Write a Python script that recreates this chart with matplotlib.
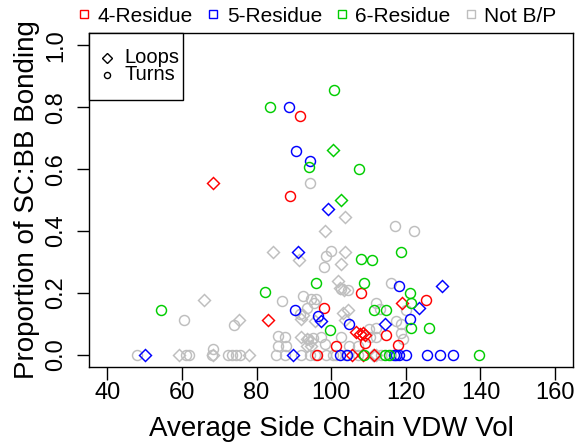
import matplotlib.pyplot as plt
from matplotlib.lines import Line2D
from matplotlib.patches import Rectangle

plt.rcParams['font.family'] = ['Liberation Sans', 'DejaVu Sans']

groups = ["4-Residue", "5-Residue", "6-Residue", "Not B/P"]
colors = ["#FF0000", "#0000FF", "#00CD00", "#BEBEBE"]
shapes = ["Loops", "Turns"]

# Not B/P
grey_loop_x = [65.9, 75.3, 84.3, 91.3, 103.8, 102.5, 103.6, 98.4, 101.7, 102.3, 103.5,
               104.5, 103.2, 103.6, 92.5, 92.0, 95.6, 92.0, 93.4, 94.7, 93.4, 94.7,
               59.3, 68.4, 78.0, 111.2, 112.1]
grey_loop_y = [0.177, 0.113, 0.333, 0.307, 0.333, 0.294, 0.444, 0.401, 0.238, 0.215, 0.208,
               0.144, 0.136, 0.112, 0.130, 0.115, 0.109, 0.059, 0.050, 0.045, 0.029, 0.029,
               0, 0, 0, 0, 0]
grey_turn_x = [94.4, 117.0, 122.3, 100.0, 98.5, 98.2, 60.7, 73.9, 86.9, 92.4, 94.7, 96.0,
               95.5, 93.4, 91.6, 102.7, 104.5, 116.1, 112.1, 113.0, 120.1, 118.8, 118.8,
               117.4, 110.0, 112.1, 85.8, 87.6, 85.8, 88.0, 93.8, 95.1, 97.4, 98.3, 102.7,
               110.3, 112.1, 119.2, 104.9, 107.2, 68.4,
               47.9, 61.1, 61.9, 68.0, 72.4, 73.5, 74.6, 75.6, 85.3, 87.6, 92.0, 94.2,
               95.6, 98.7, 100.5, 101.4, 104.0, 107.2, 113.4, 116.0]
grey_turn_y = [0.555, 0.416, 0.401, 0.334, 0.318, 0.284, 0.112, 0.096, 0.173, 0.190, 0.179, 0.179,
               0.166, 0.152, 0.131, 0.213, 0.209, 0.233, 0.168, 0.149, 0.144, 0.099, 0.070,
               0.109, 0.083, 0.088, 0.061, 0.056, 0.029, 0.029, 0.050, 0.053, 0.056, 0.034, 0.056,
               0.056, 0.059, 0.050, 0.029, 0.029, 0.018,
               0, 0, 0, 0, 0, 0, 0, 0, 0, 0, 0, 0,
               0, 0, 0, 0, 0, 0, 0, 0]

# 4-Residue
res4_loop_x = [68.4, 83.1, 106.7, 107.6, 108.5, 109.0, 119.0, 105.7, 108.6, 111.6]
res4_loop_y = [0.555, 0.113, 0.075, 0.067, 0.070, 0.063, 0.168, 0, 0, 0]
res4_turn_x = [91.6, 89.1, 98.0, 107.9, 125.5, 114.8, 109.1, 101.3, 118.0, 96.3]
res4_turn_y = [0.770, 0.512, 0.151, 0.201, 0.176, 0.064, 0.038, 0.027, 0.033, 0]

# 5-Residue
res5_loop_x = [50.1, 91.1, 99.1, 97.3, 114.5, 123.6, 129.6, 89.7]
res5_loop_y = [0, 0.333, 0.470, 0.109, 0.101, 0.150, 0.222, 0]
res5_turn_x = [88.8, 90.5, 94.3, 118.2, 90.3, 96.6, 104.7, 121.0,
               102.4, 104.2, 116.8, 117.4, 118.3, 120.1, 125.6, 129.2, 132.6]
res5_turn_y = [0.799, 0.658, 0.625, 0.223, 0.144, 0.126, 0.101, 0.115,
               0, 0, 0, 0, 0, 0, 0, 0, 0]

# 6-Residue
res6_loop_x = [100.5, 102.5]
res6_loop_y = [0.662, 0.499]
res6_turn_x = [100.7, 83.7, 94.0, 107.4, 54.4, 118.8, 108.1, 110.9, 95.8, 108.8, 82.4,
               121.1, 121.4, 111.4, 114.6, 99.7, 121.5, 126.2, 108.7, 114.3, 115.5, 139.5]
res6_turn_y = [0.857, 0.799, 0.608, 0.599, 0.144, 0.333, 0.308, 0.306, 0.233, 0.233, 0.202,
               0.200, 0.167, 0.144, 0.144, 0.080, 0.086, 0.085, 0, 0, 0, 0]

W, H = 580, 444
fig = plt.figure(figsize=(W / 100, H / 100), dpi=100)
ax = fig.add_axes([0.154, 0.173, 0.834, 0.753])

series = [
    (grey_loop_x, grey_loop_y, grey_turn_x, grey_turn_y, colors[3]),
    (res4_loop_x, res4_loop_y, res4_turn_x, res4_turn_y, colors[0]),
    (res5_loop_x, res5_loop_y, res5_turn_x, res5_turn_y, colors[1]),
    (res6_loop_x, res6_loop_y, res6_turn_x, res6_turn_y, colors[2]),
]
for lx, ly, tx, ty, c in series:
    ax.plot(lx, ly, ls='none', marker='D', ms=6.5, mfc='none', mec=c, mew=1.05)
    ax.plot(tx, ty, ls='none', marker='o', ms=7.2, mfc='none', mec=c, mew=1.05)

ax.set_xlim(35.2, 164.8)
ax.set_ylim(-0.04, 1.04)
ax.set_xticks([40, 60, 80, 100, 120, 140, 160])
ax.set_yticks([0, 0.2, 0.4, 0.6, 0.8, 1.0])
ax.set_yticklabels(["0.0", "0.2", "0.4", "0.6", "0.8", "1.0"], rotation=90, va='center')
ax.tick_params(length=9, width=1.0, labelsize=17)
ax.tick_params(axis='x', pad=2)
ax.tick_params(axis='y', pad=7)
for s in ax.spines.values():
    s.set_linewidth(1.0)

ax.set_xlabel("Average Side Chain VDW Vol", fontsize=20, labelpad=8)
ax.set_ylabel("Proportion of SC:BB Bonding", fontsize=20, labelpad=4)

# shape key in the top-left corner (drawn in figure pixels)
tf = fig.transFigure
fig.patches.append(Rectangle((89 / W, 1 - 100 / H), 94 / W, 67 / H, transform=tf,
                             facecolor='white', edgecolor='black', lw=1.0, zorder=5))
key_marks = ['D', 'o']
key_sizes = [4.6, 4.4]
key_rows = [57.7, 75.0]
for name, mk, ms, row in zip(shapes, key_marks, key_sizes, key_rows):
    fig.add_artist(Line2D([106.7 / W], [1 - row / H], transform=tf, ls='none', marker=mk,
                          ms=ms, mfc='none', mec='black', mew=1.0, zorder=6))
    fig.text(124.3 / W, 1 - row / H, name, fontsize=14.5, va='center', ha='left', zorder=6)

group_handles = [Line2D([], [], ls='none', marker='s', ms=6, mfc='none', mec=c, mew=1.0)
                 for c in colors]
fig.legend(group_handles, groups, ncol=4, loc='center', bbox_to_anchor=(0.548, 1 - 16 / H),
           frameon=False, fontsize=15, handlelength=0.5, handletextpad=0.4,
           columnspacing=0.71)

fig.savefig("out.png", dpi=100)
